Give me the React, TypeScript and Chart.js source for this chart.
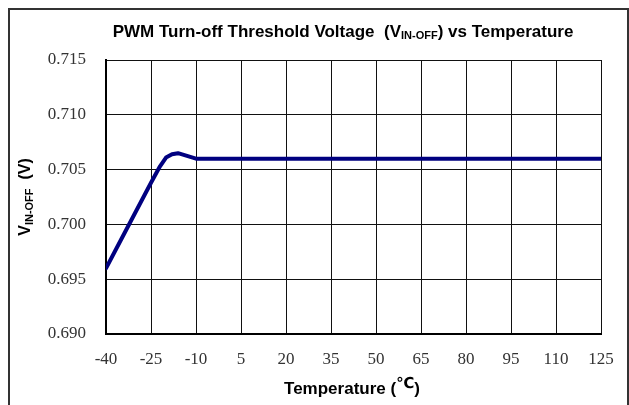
import React, { useEffect, useRef } from "react";
import { Chart, registerables } from "chart.js";

Chart.register(...registerables);

// ---- data ----
const temperatures = [-40, -35, -30, -25, -22, -20, -18, -16, -13, -10, 5, 20, 35, 50, 65, 80, 95, 110, 125];
const voltages = [0.696, 0.6986, 0.7012, 0.7038, 0.7053, 0.7061, 0.7064, 0.7065, 0.70625, 0.706, 0.706, 0.706, 0.706, 0.706, 0.706, 0.706, 0.706, 0.706, 0.706];
const xMin = -40;
const xMax = 125;
const xStep = 15;
const yMin = 0.69;
const yMax = 0.715;
const yStep = 0.005;
const titleParts = ["PWM Turn-off Threshold Voltage  (V", "IN-OFF", ") vs Temperature"];
const yTitleParts = ["V", "IN-OFF", "  (V)"];
const xTitleParts = ["Temperature (", "\u2103", ")"];

type Part = { text: string; font: string; dy: number };

function drawRich(ctx: CanvasRenderingContext2D, parts: Part[], cx: number, cy: number) {
  let total = 0;
  const widths = parts.map((p) => {
    ctx.font = p.font;
    const w = ctx.measureText(p.text).width;
    total += w;
    return w;
  });
  let x = cx - total / 2;
  ctx.textBaseline = "middle";
  ctx.textAlign = "left";
  parts.forEach((p, i) => {
    ctx.font = p.font;
    ctx.fillText(p.text, x, cy + p.dy);
    x += widths[i];
  });
}

const textPlugin = {
  id: "richTexts",
  afterDraw(chart: any) {
    const ctx: CanvasRenderingContext2D = chart.ctx;
    ctx.save();
    ctx.fillStyle = "#000";
    const big = "bold 17px 'Liberation Sans', Arial, sans-serif";
    const sub = "bold 11px 'Liberation Sans', Arial, sans-serif";
    drawRich(
      ctx,
      [
        { text: titleParts[0], font: big, dy: 0 },
        { text: titleParts[1], font: sub, dy: 4 },
        { text: titleParts[2], font: big, dy: 0 },
      ],
      343,
      32
    );
    const xt = "bold 17px 'Liberation Sans', Arial, sans-serif";
    drawRich(
      ctx,
      [
        { text: xTitleParts[0], font: xt, dy: 0 },
        { text: xTitleParts[1], font: "bold 15px 'DejaVu Sans', sans-serif", dy: -5 },
        { text: xTitleParts[2], font: xt, dy: 0 },
      ],
      352,
      389
    );
    const yt = "bold 16px 'Liberation Sans', Arial, sans-serif";
    const ys = "bold 11px 'Liberation Sans', Arial, sans-serif";
    ctx.translate(26, 197);
    ctx.rotate(-Math.PI / 2);
    drawRich(
      ctx,
      [
        { text: yTitleParts[0], font: yt, dy: 0 },
        { text: yTitleParts[1], font: ys, dy: 4 },
        { text: yTitleParts[2], font: yt, dy: 0 },
      ],
      0,
      0
    );
    ctx.restore();
  },
};

export default function App() {
  const ref = useRef<HTMLCanvasElement | null>(null);
  useEffect(() => {
    if (!ref.current) return;
    const chart = new Chart(ref.current, {
      type: "line",
      data: {
        datasets: [
          {
            data: temperatures.map((t, i) => ({ x: t, y: voltages[i] })),
            borderColor: "#000080",
            borderWidth: 4,
            pointRadius: 0,
            fill: false,
            tension: 0,
            borderJoinStyle: "round",
            borderCapStyle: "round",
          },
        ],
      },
      options: {
        animation: false,
        responsive: false,
        events: [],
        layout: { padding: { left: 0, top: 60, right: 28, bottom: 0 } },
        plugins: { legend: { display: false }, tooltip: { enabled: false }, title: { display: false } },
        scales: {
          x: {
            type: "linear",
            min: xMin,
            max: xMax,
            afterFit: (s: any) => {
              s.height = 71;
            },
            ticks: {
              stepSize: xStep,
              padding: 15,
              color: "#333",
              font: { family: "'Liberation Serif', 'Times New Roman', serif", size: 17 },
              maxRotation: 0,
            },
            grid: { color: "#111", lineWidth: 1, drawTicks: false },
            border: { color: "#000", width: 2 },
          },
          y: {
            min: yMin,
            max: yMax,
            afterFit: (s: any) => {
              s.width = 106;
            },
            ticks: {
              stepSize: yStep,
              padding: 20,
              color: "#333",
              font: { family: "'Liberation Serif', 'Times New Roman', serif", size: 17 },
              callback: (v: any) => Number(v).toFixed(3),
            },
            grid: { color: "#111", lineWidth: 1, drawTicks: false },
            border: { color: "#000", width: 2 },
          },
        },
      },
      plugins: [textPlugin],
    } as any);
    return () => chart.destroy();
  }, []);
  return (
    <div style={{ position: "fixed", left: 0, top: 0, width: 629, height: 405, background: "#fff", overflow: "hidden" }}>
      <div
        style={{
          position: "absolute",
          left: 8,
          top: 8,
          width: 617,
          height: 420,
          borderLeft: "2px solid #333",
          borderTop: "2px solid #333",
          borderRight: "2px solid #333",
        }}
      />
      <canvas ref={ref} width={629} height={405} style={{ position: "absolute", left: 0, top: 0 }} />
    </div>
  );
}
